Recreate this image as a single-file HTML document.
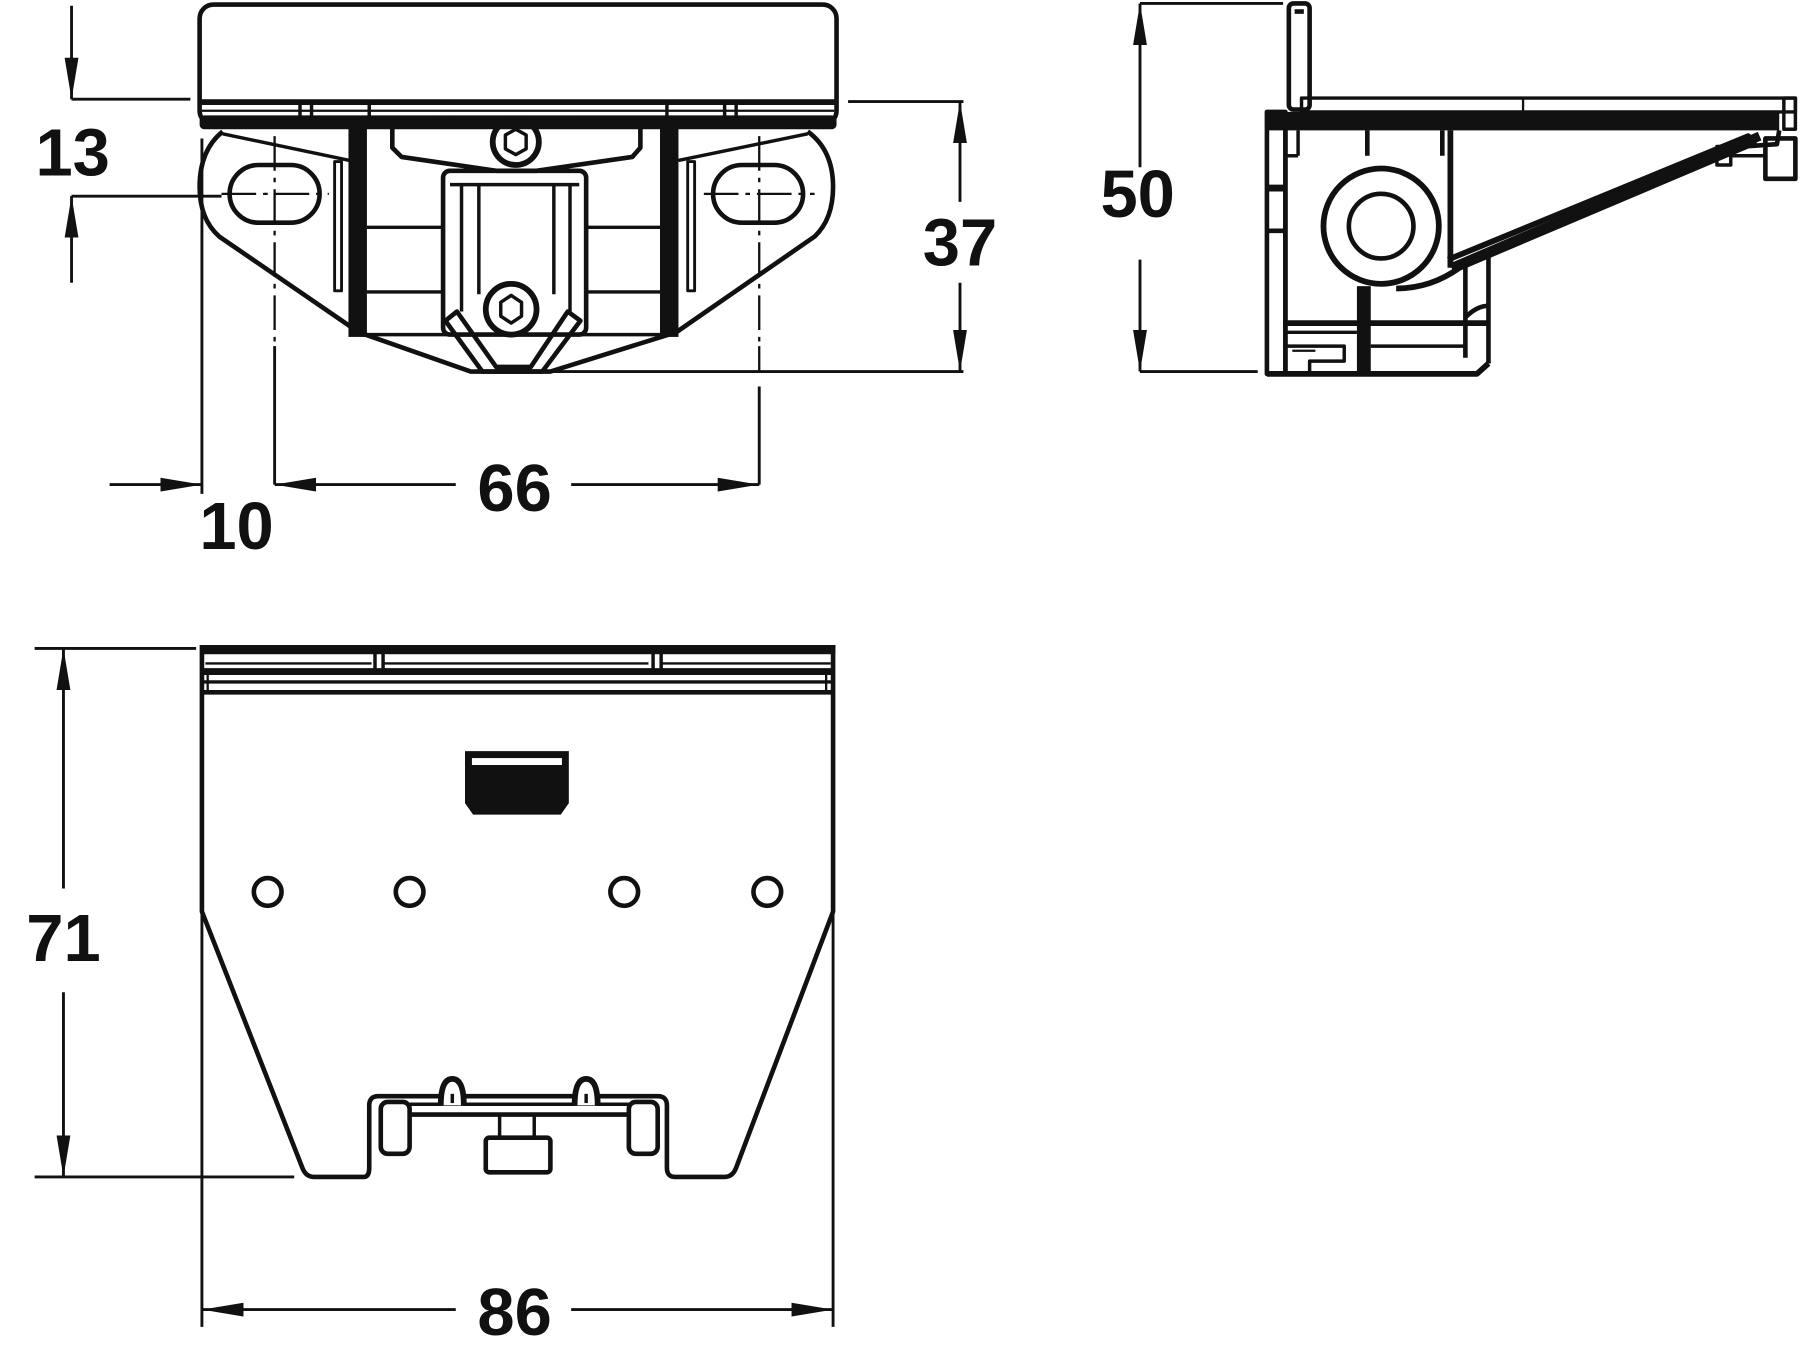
<!DOCTYPE html>
<html><head><meta charset="utf-8"><style>
html,body{margin:0;padding:0;background:#fff;width:1800px;height:1350px;overflow:hidden}
svg{display:block}
text{font-family:"Liberation Sans",Arial,sans-serif;font-weight:bold;font-size:58px;fill:#111;text-anchor:middle}
</style></head><body>
<svg width="1800" height="1350" viewBox="0 0 1560 1170" xmlns="http://www.w3.org/2000/svg">
<defs>
<marker id="a" viewBox="0 0 36 12" refX="36" refY="6" markerWidth="36" markerHeight="12" markerUnits="userSpaceOnUse" orient="auto-start-reverse">
<path d="M0,0 L36,6 L0,12 Z" fill="#111"/></marker>
</defs>
<g stroke="#111" fill="none" stroke-linejoin="round">
<!-- ===== TOP VIEW ===== -->
<rect x="173" y="4" width="552" height="104" rx="12" stroke-width="4"/>
<rect x="173" y="86" width="552" height="5" fill="#111" stroke="none"/>
<rect x="173" y="100" width="552" height="12" rx="4" fill="#111" stroke="none"/>
<line x1="175" y1="96" x2="723" y2="96" stroke-width="2"/>
<g stroke-width="3">
<line x1="260" y1="88" x2="260" y2="102"/><line x1="270" y1="88" x2="270" y2="102"/>
<line x1="628" y1="88" x2="628" y2="102"/><line x1="638" y1="88" x2="638" y2="102"/>
<line x1="320" y1="88" x2="320" y2="102"/><line x1="578" y1="88" x2="578" y2="102"/>
</g>
<!-- plate outline -->
<path d="M193,114 Q173,130 173,162 Q173,190 190,205 L311,288 L408,322 L477,322 L586,288 L706,205 Q722,190 722,162 Q722,130 700,114" stroke-width="4"/>
<line x1="193" y1="116" x2="303" y2="139" stroke-width="3"/>
<line x1="700" y1="116" x2="588" y2="139" stroke-width="3"/>
<!-- slots -->
<rect x="199" y="143" width="78" height="50" rx="25" stroke-width="4"/>
<rect x="618" y="143" width="78" height="50" rx="25" stroke-width="4"/>
<!-- posts -->
<rect x="302" y="110" width="16" height="182" fill="#111" stroke="none"/>
<rect x="572" y="110" width="16" height="182" fill="#111" stroke="none"/>
<rect x="290" y="140" width="6" height="112" stroke-width="2.5"/>
<rect x="596" y="140" width="6" height="112" stroke-width="2.5"/>
<line x1="318" y1="197" x2="384" y2="197" stroke-width="3"/>
<line x1="318" y1="253" x2="384" y2="253" stroke-width="3"/>
<line x1="508" y1="197" x2="572" y2="197" stroke-width="3"/>
<line x1="508" y1="253" x2="572" y2="253" stroke-width="3"/>
<line x1="318" y1="290" x2="572" y2="290" stroke-width="3"/>
<!-- bracket -->
<path d="M340,110 L340,128 L348,136 L430,148 L465,148 L548,136 L555,128 L555,110" stroke-width="4"/>
<path d="M376,102 Q383,115 390,102 M500,102 Q507,115 514,102" stroke-width="5"/>
<circle cx="447" cy="123" r="20" stroke-width="5"/>
<path d="M447,112 L456,117 L456,129 L447,134 L438,129 L438,117 Z" stroke-width="3"/>
<rect x="384" y="148" width="124" height="142" rx="6" stroke-width="4"/>
<line x1="400" y1="160" x2="400" y2="270" stroke-width="3"/>
<line x1="415" y1="160" x2="415" y2="255" stroke-width="3"/>
<line x1="480" y1="160" x2="480" y2="255" stroke-width="3"/>
<line x1="494" y1="160" x2="494" y2="270" stroke-width="3"/>
<line x1="390" y1="160" x2="502" y2="160" stroke-width="3"/>
<circle cx="443" cy="268" r="22" stroke-width="5"/>
<path d="M443,256 L452,262 L452,274 L443,280 L434,274 L434,262 Z" stroke-width="3"/>
<path d="M396,270 L430,318 L460,318 L492,270 L503,278 L470,322 L418,322 L386,278 Z" stroke-width="4"/>
<!-- center lines -->
<g stroke-width="2" stroke-dasharray="30,6,4,6">
<line x1="238" y1="118" x2="238" y2="300"/>
<line x1="658" y1="118" x2="658" y2="300"/>
<line x1="192" y1="168" x2="285" y2="168"/>
<line x1="610" y1="168" x2="706" y2="168"/>
</g>
<line x1="238" y1="300" x2="238" y2="420" stroke-width="2.5"/>
<line x1="658" y1="335" x2="658" y2="420" stroke-width="2.5"/>
<line x1="658" y1="300" x2="658" y2="322" stroke-width="2"/>
<!-- dim 13 -->
<line x1="62" y1="86" x2="165" y2="86" stroke-width="2.5"/>
<line x1="62" y1="170" x2="192" y2="170" stroke-width="2.5"/>
<line x1="62" y1="5" x2="62" y2="86" stroke-width="2.5" marker-end="url(#a)"/>
<line x1="62" y1="245" x2="62" y2="170" stroke-width="2.5" marker-end="url(#a)"/>
<!-- dim 37 -->
<line x1="735" y1="88" x2="835" y2="88" stroke-width="2.5"/>
<line x1="480" y1="322" x2="835" y2="322" stroke-width="2.5"/>
<line x1="832" y1="175" x2="832" y2="88" stroke-width="2.5" marker-end="url(#a)"/>
<line x1="832" y1="245" x2="832" y2="322" stroke-width="2.5" marker-end="url(#a)"/>
<!-- dim 10 / 66 -->
<line x1="175" y1="120" x2="175" y2="428" stroke-width="2.5"/>
<line x1="95" y1="420" x2="175" y2="420" stroke-width="2.5" marker-end="url(#a)"/>
<line x1="395" y1="420" x2="238" y2="420" stroke-width="2.5" marker-end="url(#a)"/>
<line x1="495" y1="420" x2="658" y2="420" stroke-width="2.5" marker-end="url(#a)"/>
<!-- ===== SIDE VIEW ===== -->
<rect x="1117" y="3" width="18" height="92" rx="4" stroke-width="4"/>
<line x1="1122" y1="10" x2="1130" y2="10" stroke-width="4"/>
<rect x="1128" y="85" width="428" height="12" stroke-width="3"/>
<line x1="1320" y1="85" x2="1320" y2="97" stroke-width="2"/>
<rect x="1546" y="85" width="10" height="27" stroke-width="3"/>
<rect x="1098" y="97" width="444" height="16" fill="#111" stroke="none"/>
<path d="M1542,113 L1540,125 L1510,127" stroke-width="4"/>
<rect x="1098" y="97" width="16" height="227" stroke-width="4"/>
<line x1="1098" y1="163" x2="1114" y2="163" stroke-width="6"/>
<line x1="1098" y1="200" x2="1114" y2="200" stroke-width="4"/>
<line x1="1114" y1="113" x2="1114" y2="324" stroke-width="4"/>
<line x1="1125" y1="113" x2="1125" y2="135" stroke-width="3"/>
<path d="M1114,135 L1125,135" stroke-width="3"/>
<line x1="1185" y1="113" x2="1185" y2="135" stroke-width="4"/>
<line x1="1250" y1="113" x2="1250" y2="135" stroke-width="4"/>
<line x1="1257" y1="113" x2="1257" y2="232" stroke-width="5"/>
<circle cx="1197" cy="196" r="50" stroke-width="5"/>
<circle cx="1197" cy="196" r="28" stroke-width="4"/>
<path d="M1210,250 Q1240,250 1265,232 L1520,124 L1515,118 L1255,225" stroke-width="5" fill="none"/>
<path d="M1258,232 L1525,118" stroke-width="8"/>
<rect x="1176" y="248" width="12" height="76" fill="#111" stroke="none"/>
<line x1="1270" y1="228" x2="1270" y2="310" stroke-width="4"/>
<line x1="1290" y1="218" x2="1290" y2="315" stroke-width="4"/>
<path d="M1270,275 Q1280,265 1290,265" stroke-width="4"/>
<line x1="1114" y1="280" x2="1290" y2="280" stroke-width="5"/>
<line x1="1114" y1="288" x2="1176" y2="288" stroke-width="3"/>
<path d="M1098,324 L1280,324 L1290,315" stroke-width="5"/>
<path d="M1114,300 L1165,300 L1165,313 L1135,313 L1135,322" stroke-width="3"/>
<line x1="1120" y1="304" x2="1140" y2="304" stroke-width="2"/>
<line x1="1188" y1="300" x2="1270" y2="300" stroke-width="3"/>
<rect x="1488" y="127" width="12" height="16" stroke-width="3"/>
<rect x="1530" y="120" width="26" height="35" stroke-width="4"/>
<line x1="1500" y1="135" x2="1530" y2="135" stroke-width="3"/>
<!-- dim 50 -->
<line x1="988" y1="3" x2="1112" y2="3" stroke-width="2.5"/>
<line x1="988" y1="322" x2="1090" y2="322" stroke-width="2.5"/>
<line x1="988" y1="145" x2="988" y2="3" stroke-width="2.5" marker-end="url(#a)"/>
<line x1="988" y1="225" x2="988" y2="322" stroke-width="2.5" marker-end="url(#a)"/>
<!-- ===== BOTTOM VIEW ===== -->
<rect x="174" y="559" width="550" height="8" fill="#111" stroke="none"/>
<path d="M175,559 L175,790 L262,1012 Q265,1020 272,1020 L315,1020 Q320,1020 320,1012 L320,958 Q320,950 328,950 L570,950 Q578,950 578,958 L578,1012 Q578,1020 585,1020 L628,1020 Q635,1020 638,1012 L722,790 L722,559" stroke-width="4"/>
<line x1="175" y1="582" x2="722" y2="582" stroke-width="6"/>
<line x1="175" y1="591" x2="722" y2="591" stroke-width="3"/>
<line x1="175" y1="600" x2="722" y2="600" stroke-width="4"/>
<line x1="178" y1="575" x2="322" y2="575" stroke-width="2"/>
<line x1="332" y1="575" x2="562" y2="575" stroke-width="2"/>
<line x1="574" y1="575" x2="720" y2="575" stroke-width="2"/>
<line x1="325" y1="565" x2="325" y2="582" stroke-width="3"/>
<line x1="332" y1="565" x2="332" y2="582" stroke-width="3"/>
<line x1="566" y1="565" x2="566" y2="582" stroke-width="3"/>
<line x1="573" y1="565" x2="573" y2="582" stroke-width="3"/>
<line x1="180" y1="585" x2="180" y2="598" stroke-width="2"/>
<line x1="716" y1="585" x2="716" y2="598" stroke-width="2"/>
<path d="M403,651 L493,651 L493,696 L486,706 L410,706 L403,696 Z" fill="#111" stroke="none"/>
<rect x="409" y="657" width="78" height="6" fill="#fff" stroke="none"/>
<circle cx="232" cy="773" r="12" stroke-width="4"/>
<circle cx="355" cy="773" r="12" stroke-width="4"/>
<circle cx="541" cy="773" r="12" stroke-width="4"/>
<circle cx="665" cy="773" r="12" stroke-width="4"/>
<rect x="330" y="955" width="25" height="45" rx="6" stroke-width="4"/>
<rect x="545" y="955" width="25" height="45" rx="6" stroke-width="4"/>
<line x1="355" y1="957" x2="545" y2="957" stroke-width="3"/>
<line x1="355" y1="966" x2="545" y2="966" stroke-width="4"/>
<path d="M382,958 Q382,935 392,935 Q402,935 402,958" stroke-width="5" fill="#fff"/>
<path d="M498,958 Q498,935 508,935 Q518,935 518,958" stroke-width="5" fill="#fff"/>
<line x1="392" y1="948" x2="392" y2="956" stroke-width="3"/>
<line x1="508" y1="948" x2="508" y2="956" stroke-width="3"/>
<rect x="433" y="966" width="30" height="20" stroke-width="3"/>
<rect x="421" y="986" width="56" height="30" rx="3" stroke-width="4"/>
<!-- dim 71 -->
<line x1="30" y1="562" x2="170" y2="562" stroke-width="2.5"/>
<line x1="30" y1="1020" x2="255" y2="1020" stroke-width="2.5"/>
<line x1="55" y1="770" x2="55" y2="562" stroke-width="2.5" marker-end="url(#a)"/>
<line x1="55" y1="860" x2="55" y2="1020" stroke-width="2.5" marker-end="url(#a)"/>
<!-- dim 86 -->
<line x1="175" y1="790" x2="175" y2="1150" stroke-width="2.5"/>
<line x1="722" y1="790" x2="722" y2="1150" stroke-width="2.5"/>
<line x1="395" y1="1135" x2="175" y2="1135" stroke-width="2.5" marker-end="url(#a)"/>
<line x1="495" y1="1135" x2="722" y2="1135" stroke-width="2.5" marker-end="url(#a)"/>
</g>
<text x="63" y="152">13</text>
<text x="832" y="230">37</text>
<text x="205" y="476">10</text>
<text x="446" y="443">66</text>
<text x="986" y="188">50</text>
<text x="55" y="833">71</text>
<text x="446" y="1157">86</text>
</svg>
</body></html>
